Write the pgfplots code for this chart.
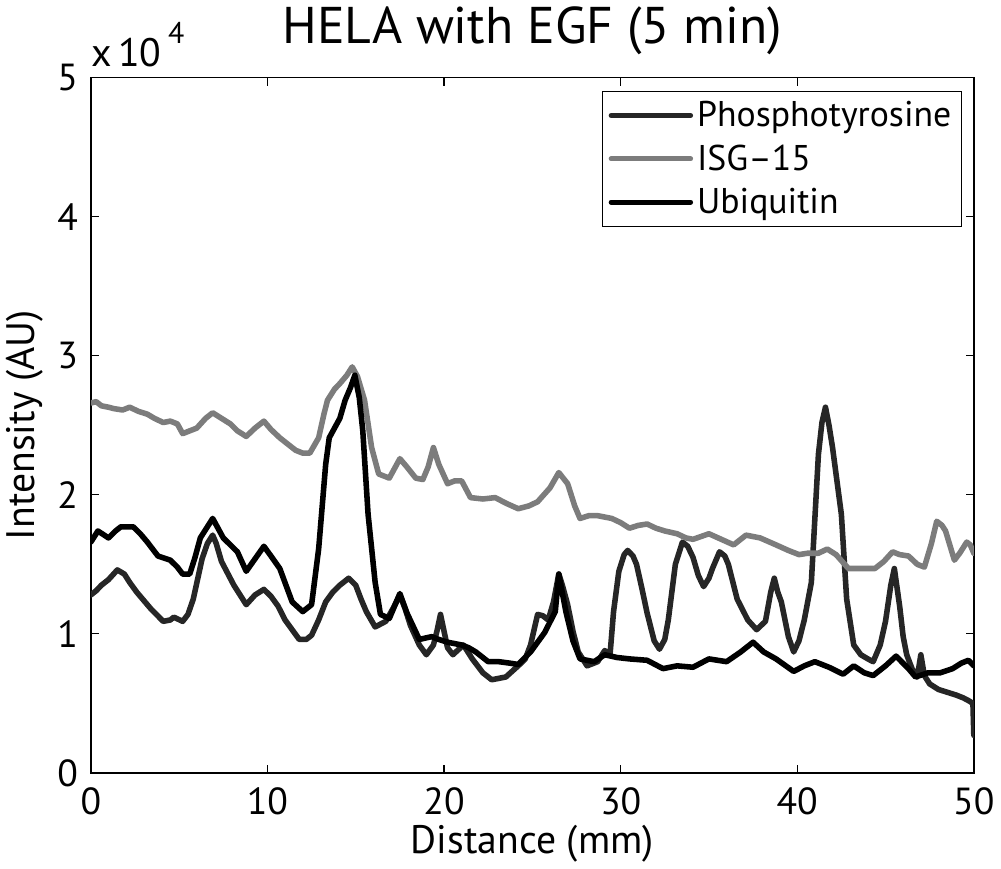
\documentclass[border=0pt]{standalone}
\usepackage{pgfplots}
\pgfplotsset{compat=1.18}
\usepackage{fontspec}
\setmainfont{PT Sans}
\definecolor{isg}{HTML}{7C7C7C}
\definecolor{phos}{HTML}{262626}
\begin{document}
\begin{tikzpicture}
\begin{axis}[
  scale only axis,
  clip mode=individual,
  width=444.5pt, height=350pt,
  xmin=0, xmax=50, ymin=0, ymax=5,
  xtick={0,10,20,30,40,50},
  ytick={0,1,2,3,4,5},
  tick align=inside,
  major tick length=4pt,
  tick style={black, line width=0.6pt},
  axis line style={line width=0.8pt},
  /pgf/number format/assume math mode=true,
  ticklabel style={font=\fontsize{19}{22}\selectfont},
  xticklabel style={yshift=-4pt},
  yticklabel style={xshift=-3pt},
  xlabel={Distance (mm)},
  ylabel={Intensity (AU)},
  xlabel style={font=\fontsize{20}{24}\selectfont, yshift=2pt},
  ylabel style={font=\fontsize{20}{24}\selectfont, yshift=0pt},
  title={HELA with EGF (5 min)},
  title style={font=\fontsize{26}{30}\selectfont, yshift=2pt},
  legend style={at={(axis description cs:0.9865,0.981)}, anchor=north east,
    font=\fontsize{18}{21}\selectfont, draw=black, line width=0.6pt,
    inner xsep=3pt, inner ysep=3pt, row sep=3.5pt},
  legend cell align=left,
  legend image code/.code={\draw[#1, line width=2.5pt] (0pt,0pt) -- (40pt,0pt);},
  every axis plot/.append style={line join=round, line cap=round},
]
\addplot[phos, line width=2.8pt] coordinates {
(0,1.28) (0.3,1.31) (0.6,1.35) (1.0,1.39) (1.5,1.46) (1.9,1.43) (2.2,1.37) (2.6,1.30) (3.0,1.24) (3.4,1.18) (4.1,1.09) (4.5,1.10) (4.7,1.12) (5.2,1.09) (5.5,1.14) (5.8,1.25) (6.3,1.54) (6.6,1.65) (6.9,1.71) (7.1,1.65) (7.4,1.52) (8.1,1.35) (8.8,1.21) (9.3,1.28) (9.8,1.32) (10.2,1.27) (10.6,1.20) (11.0,1.10) (11.4,1.03) (11.8,0.96) (12.2,0.96) (12.5,0.99) (12.9,1.10) (13.3,1.23) (13.7,1.30) (14.1,1.35) (14.6,1.40) (15.0,1.35) (15.3,1.25) (15.6,1.16) (16.1,1.05) (16.7,1.09) (17.1,1.18) (17.5,1.28) (17.8,1.18) (18.1,1.06) (18.6,0.92) (19.0,0.85) (19.4,0.92) (19.6,1.02) (19.8,1.14) (20.0,1.02) (20.2,0.90) (20.5,0.85) (21.1,0.92) (21.6,0.82) (22.2,0.72) (22.7,0.67) (23.5,0.69) (24.2,0.77) (24.6,0.82) (24.9,0.92) (25.1,1.03) (25.3,1.14) (25.6,1.13) (25.9,1.10) (26.2,1.23) (26.5,1.43) (26.7,1.35) (27.0,1.21) (27.3,1.02) (27.6,0.87) (28.1,0.77) (28.7,0.80) (29.1,0.88) (29.4,0.85) (29.6,1.16) (29.9,1.45) (30.2,1.57) (30.4,1.60) (30.7,1.56) (30.9,1.50) (31.2,1.33) (31.5,1.15) (31.9,0.95) (32.2,0.89) (32.5,0.96) (32.7,1.10) (33.1,1.50) (33.5,1.66) (33.8,1.63) (34.1,1.55) (34.4,1.42) (34.7,1.34) (35.0,1.40) (35.2,1.47) (35.6,1.59) (35.9,1.56) (36.1,1.50) (36.6,1.25) (37.2,1.10) (37.7,1.03) (38.2,1.09) (38.5,1.30) (38.7,1.40) (38.9,1.30) (39.1,1.23) (39.5,0.98) (39.8,0.87) (40.1,0.95) (40.4,1.10) (40.8,1.37) (41.2,2.29) (41.4,2.52) (41.6,2.63) (41.8,2.50) (42.0,2.34) (42.5,1.86) (42.8,1.25) (43.2,0.92) (43.6,0.85) (44.0,0.82) (44.3,0.80) (44.7,0.92) (45.0,1.09) (45.3,1.35) (45.5,1.47) (45.8,1.20) (46.0,0.98) (46.2,0.85) (46.5,0.75) (46.8,0.69) (47.0,0.85) (47.2,0.70) (47.5,0.64) (48.0,0.60) (48.5,0.58) (49.0,0.56) (49.4,0.54) (49.7,0.52) (49.95,0.50) (50.0,0.27)
};
\addlegendentry{Phosphotyrosine}
\addplot[isg, line width=2.8pt] coordinates {
(0,2.66) (0.3,2.67) (0.6,2.64) (1.0,2.63) (1.3,2.62) (1.8,2.61) (2.2,2.63) (2.7,2.60) (3.2,2.58) (3.6,2.55) (4.1,2.52) (4.5,2.53) (4.9,2.51) (5.2,2.44) (5.6,2.46) (6.0,2.48) (6.5,2.55) (6.9,2.59) (7.4,2.55) (7.9,2.51) (8.3,2.46) (8.8,2.42) (9.3,2.48) (9.8,2.53) (10.2,2.47) (10.7,2.41) (11.2,2.36) (11.6,2.32) (12.0,2.30) (12.4,2.30) (12.9,2.41) (13.2,2.58) (13.4,2.68) (13.8,2.76) (14.1,2.80) (14.5,2.86) (14.8,2.92) (15.1,2.85) (15.5,2.68) (15.9,2.34) (16.3,2.15) (16.9,2.12) (17.2,2.19) (17.5,2.26) (17.9,2.20) (18.4,2.12) (18.8,2.11) (19.1,2.20) (19.4,2.34) (19.7,2.22) (20.2,2.08) (20.6,2.10) (21.0,2.10) (21.5,1.98) (22.2,1.97) (22.9,1.98) (23.5,1.94) (24.2,1.90) (24.8,1.92) (25.3,1.95) (26.0,2.05) (26.5,2.16) (27.0,2.08) (27.4,1.92) (27.7,1.83) (28.2,1.85) (28.7,1.85) (29.5,1.83) (30.0,1.80) (30.5,1.76) (31.0,1.78) (31.5,1.79) (32.0,1.76) (32.5,1.74) (33.2,1.72) (33.7,1.69) (34.1,1.68) (35.0,1.72) (35.7,1.68) (36.4,1.64) (37.1,1.71) (37.5,1.70) (37.9,1.69) (38.8,1.64) (39.5,1.60) (40.1,1.57) (40.6,1.58) (41.2,1.58) (41.7,1.61) (42.2,1.57) (42.9,1.47) (43.6,1.47) (44.4,1.47) (44.9,1.52) (45.4,1.59) (45.8,1.57) (46.3,1.56) (46.8,1.50) (47.2,1.48) (47.6,1.65) (47.9,1.81) (48.2,1.78) (48.4,1.74) (48.9,1.53) (49.2,1.58) (49.6,1.66) (49.8,1.64) (50.0,1.58)
};
\addlegendentry{ISG--15}
\addplot[black, line width=2.8pt] coordinates {
(0,1.66) (0.4,1.74) (1.0,1.69) (1.4,1.74) (1.7,1.77) (2.4,1.77) (2.8,1.72) (3.2,1.66) (3.8,1.56) (4.5,1.53) (4.9,1.48) (5.2,1.43) (5.6,1.43) (5.9,1.55) (6.2,1.69) (6.9,1.83) (7.5,1.69) (8.3,1.59) (8.8,1.45) (9.3,1.54) (9.8,1.63) (10.2,1.56) (10.7,1.47) (11.4,1.23) (12.0,1.16) (12.5,1.21) (12.9,1.61) (13.3,2.22) (13.5,2.41) (14.1,2.55) (14.4,2.68) (14.7,2.77) (14.95,2.86) (15.2,2.70) (15.4,2.46) (15.7,1.86) (16.1,1.37) (16.4,1.14) (16.9,1.11) (17.5,1.29) (17.9,1.15) (18.6,0.96) (19.3,0.98) (19.7,0.96) (20.2,0.94) (21.0,0.92) (21.4,0.90) (21.8,0.87) (22.5,0.80) (23.1,0.80) (23.7,0.79) (24.2,0.78) (24.9,0.87) (25.7,1.01) (26.3,1.16) (26.5,1.43) (26.9,1.16) (27.3,0.95) (27.7,0.82) (28.5,0.80) (29.1,0.85) (29.8,0.83) (30.5,0.82) (31.5,0.81) (32.4,0.75) (33.2,0.77) (34.1,0.76) (35.0,0.82) (36.0,0.80) (36.8,0.87) (37.5,0.94) (38.1,0.87) (38.8,0.82) (39.8,0.73) (40.4,0.77) (41.0,0.80) (41.8,0.76) (42.6,0.71) (43.2,0.77) (43.8,0.72) (44.3,0.70) (45.0,0.77) (45.6,0.84) (46.3,0.75) (46.7,0.69) (47.4,0.72) (48.1,0.72) (48.8,0.75) (49.3,0.79) (49.7,0.81) (50.0,0.77)
};
\addlegendentry{Ubiquitin}
\node[anchor=south west, inner sep=0pt, font=\fontsize{20}{22}\selectfont] at (rel axis cs:0,1) [yshift=5pt] {x\,10\,\raisebox{1.2ex}{\fontsize{15}{15}\selectfont 4}};
\end{axis}
\end{tikzpicture}
\end{document}
